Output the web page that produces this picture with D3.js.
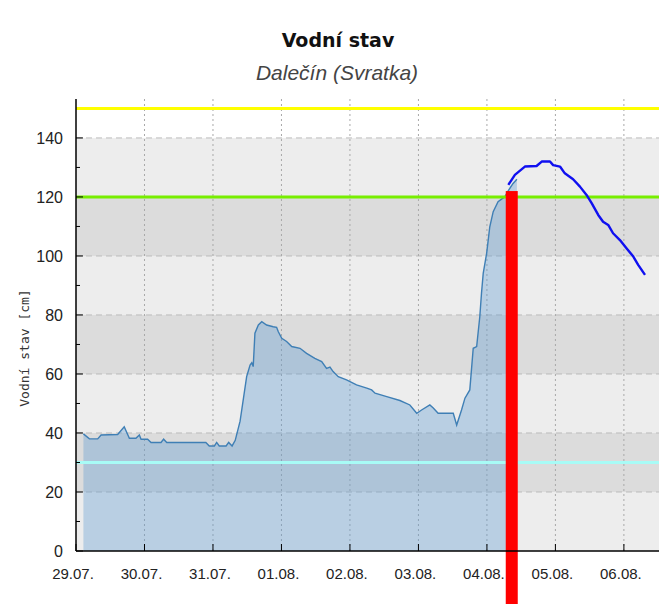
<!DOCTYPE html>
<html>
<head>
<meta charset="utf-8">
<script src="https://cdn.jsdelivr.net/npm/d3@7"></script>
<style>
  body { margin: 0; background: #fff; }
  svg { display: block; }
</style>
</head>
<body>
<div id="chart"></div>
<script>
// hours after 29.07. 00:00
const obsHours = [2.6, 4.7, 7.6, 8.8, 14.6, 16.9, 18.7, 21.0, 22.2, 22.8, 25.1, 26.3, 29.8, 30.7, 31.8,
  45.5, 46.7, 48.5, 49.3, 50.2, 52.6, 53.5, 54.7, 55.8, 57.5, 58.6, 59.8, 61.0, 61.6, 62.1, 62.7,
  63.9, 65.1, 66.8, 69.1, 70.3, 70.9, 72.1, 73.8, 75.6, 78.5, 80.8, 83.7, 86.1, 87.8, 89.0, 90.1,
  91.9, 94.8, 98.3, 101.9, 103.6, 104.8, 108.9, 113.5, 117.0, 119.4, 121.1, 124.0, 125.2, 126.9,
  132.2, 133.4, 135.1, 136.3, 138.0, 139.2, 140.4, 141.5, 142.1, 142.7, 143.9, 145.0, 146.2, 147.9,
  150.3, 151.4, 153.1, 154.5];
const obsLevel = [39.7, 38, 38, 39.3, 39.5, 42.1, 38.2, 38.2, 39.3, 37.9, 37.9, 36.8, 36.8, 37.9, 36.8,
  36.8, 35.6, 35.6, 36.8, 35.6, 35.6, 36.8, 35.6, 37.5, 44, 51.2, 59.1, 63, 63.8, 62.5, 73.8,
  76.6, 77.7, 76.6, 76, 75.8, 74.3, 72.1, 71, 69.3, 68.7, 67, 65.3, 64.2, 61.9, 62.3, 60.8,
  59.1, 58, 56.3, 55.2, 54.6, 53.5, 52.3, 51, 49.5, 46.7, 47.8, 49.5, 48.5, 46.7,
  46.7, 42.7, 47.8, 51.8, 54.6, 68.7, 69.3, 79.4, 87.4, 94.1, 100.9, 109.9, 115, 118.4,
  120.1, 122, 124.5, 126];

const fcHours = [151.5, 153.8, 157.3, 161.4, 163.2, 166.1, 167.2, 169.6, 171.3, 174.2, 176.6, 178.9,
  180.7, 183.0, 184.7, 186.5, 188.2, 190.6, 192.9, 195.3, 197.0, 199.4];
const fcLevel = [124.1, 127.5, 130.3, 130.5, 132, 132, 130.8, 130.3, 128, 126, 123.5, 120.7,
  117.9, 113.9, 111.6, 110.5, 107.7, 105.4, 102.6, 99.8, 97, 93.6];

// flood levels
const limitValues = [150, 120, 30];
const limitColors = ['#ffff00', '#77ee00', '#a8fbf6'];

const nowHour = 152.7;
const nowLevel = 122;

const yTicks = [0, 20, 40, 60, 80, 100, 120, 140];
const yMinor = [10, 30, 50, 70, 90, 110, 130];
const bands = [[0, 20], [20, 40], [40, 60], [60, 80], [80, 100], [100, 120], [120, 140]];

const W = 659, H = 604;
const margin = { top: 99, right: 0, bottom: 53, left: 76 };
const start = new Date(2021, 6, 29);
const toDate = h => new Date(start.getTime() + h * 3600e3);

const svg = d3.select('#chart').append('svg')
  .attr('width', W)
  .attr('height', H)
  .style('font-family', '"Liberation Sans", Arial, sans-serif');

const x = d3.scaleTime()
  .domain([start, toDate(204.3)])
  .range([margin.left, W - margin.right]);

const y = d3.scaleLinear()
  .domain([0, 153.2])
  .range([H - margin.bottom, margin.top]);

const plotW = W - margin.right - margin.left;

// background bands
svg.append('g').selectAll('rect')
  .data(bands)
  .enter().append('rect')
  .attr('x', margin.left)
  .attr('width', plotW)
  .attr('y', d => y(d[1]))
  .attr('height', d => y(d[0]) - y(d[1]))
  .attr('fill', (d, i) => i % 2 ? '#dcdcdc' : '#ededed');

// grid
svg.append('g').selectAll('line')
  .data(yTicks.slice(1))
  .enter().append('line')
  .attr('x1', margin.left).attr('x2', W)
  .attr('y1', d => y(d)).attr('y2', d => y(d))
  .attr('stroke', '#bcbcbc')
  .attr('stroke-dasharray', '6,4');

const days = d3.timeDay.range(start, toDate(204.3));
svg.append('g').selectAll('line')
  .data(days.slice(1))
  .enter().append('line')
  .attr('x1', d => x(d)).attr('x2', d => x(d))
  .attr('y1', margin.top).attr('y2', y(0))
  .attr('stroke', '#a8a8a8')
  .attr('stroke-dasharray', '2,3');

// observed
const obs = obsHours.map((h, i) => ({ t: toDate(h), v: obsLevel[i] }));
const fc = fcHours.map((h, i) => ({ t: toDate(h), v: fcLevel[i] }));

const area = d3.area()
  .x(d => x(d.t))
  .y0(y(0))
  .y1(d => y(d.v));

const line = d3.line()
  .x(d => x(d.t))
  .y(d => y(d.v));

svg.append('path')
  .datum(obs)
  .attr('d', area)
  .attr('fill', 'rgb(88,153,210)')
  .attr('fill-opacity', 0.35);

svg.append('path')
  .datum(obs)
  .attr('d', line)
  .attr('fill', 'none')
  .attr('stroke', '#3f7fb5')
  .attr('stroke-width', 1.4);

// limit lines
svg.append('g').selectAll('line')
  .data(limitValues)
  .enter().append('line')
  .attr('x1', margin.left).attr('x2', W)
  .attr('y1', d => y(d)).attr('y2', d => y(d))
  .attr('stroke', (d, i) => limitColors[i])
  .attr('stroke-width', 3);

// now marker
svg.append('rect')
  .attr('x', x(toDate(nowHour)) - 6)
  .attr('width', 12)
  .attr('y', y(nowLevel))
  .attr('height', H - y(nowLevel))
  .attr('fill', '#ff0000');

// forecast
svg.append('path')
  .datum(fc)
  .attr('d', line)
  .attr('fill', 'none')
  .attr('stroke', '#1010f0')
  .attr('stroke-width', 2.4)
  .attr('stroke-linejoin', 'round');

// axes
const axis = svg.append('g').attr('stroke', '#000');
axis.append('line')
  .attr('x1', margin.left).attr('x2', margin.left)
  .attr('y1', margin.top).attr('y2', y(0))
  .attr('stroke-width', 1.5);
axis.append('line')
  .attr('x1', margin.left).attr('x2', W)
  .attr('y1', y(0)).attr('y2', y(0))
  .attr('stroke-width', 1.5);

axis.selectAll('.ymaj')
  .data(yTicks)
  .enter().append('line')
  .attr('x1', margin.left).attr('x2', margin.left + 7)
  .attr('y1', d => y(d)).attr('y2', d => y(d));
axis.selectAll('.ymin')
  .data(yMinor)
  .enter().append('line')
  .attr('x1', margin.left).attr('x2', margin.left + 4)
  .attr('y1', d => y(d)).attr('y2', d => y(d));
axis.selectAll('.xt')
  .data(days)
  .enter().append('line')
  .attr('x1', d => x(d)).attr('x2', d => x(d))
  .attr('y1', y(0) - 7).attr('y2', y(0));

svg.append('g').selectAll('text')
  .data(yTicks)
  .enter().append('text')
  .attr('x', margin.left - 13)
  .attr('y', d => y(d) + 6)
  .attr('text-anchor', 'end')
  .attr('font-size', 16)
  .attr('fill', '#222')
  .text(d => d);

const fmt = d3.timeFormat('%d.%m.');
svg.append('g').selectAll('text')
  .data(days)
  .enter().append('text')
  .attr('x', d => x(d) - 3)
  .attr('y', y(0) + 28)
  .attr('text-anchor', 'middle')
  .attr('font-size', 15)
  .attr('fill', '#222')
  .text(d => fmt(d));

// titles
svg.append('text')
  .attr('x', 338).attr('y', 47)
  .attr('text-anchor', 'middle')
  .style('font-family', '"DejaVu Sans", sans-serif')
  .attr('font-weight', 'bold')
  .attr('font-size', 19)
  .attr('fill', '#111')
  .text('Vodní stav');

svg.append('text')
  .attr('x', 337).attr('y', 80)
  .attr('text-anchor', 'middle')
  .attr('font-style', 'italic')
  .attr('font-size', 21)
  .attr('fill', '#444')
  .text('Dalečín (Svratka)');

svg.append('text')
  .attr('transform', 'translate(29,348) rotate(-90)')
  .attr('text-anchor', 'middle')
  .style('font-family', '"DejaVu Sans Mono", monospace')
  .attr('font-size', 13)
  .attr('fill', '#333')
  .text('Vodní stav [cm]');
</script>
</body>
</html>
